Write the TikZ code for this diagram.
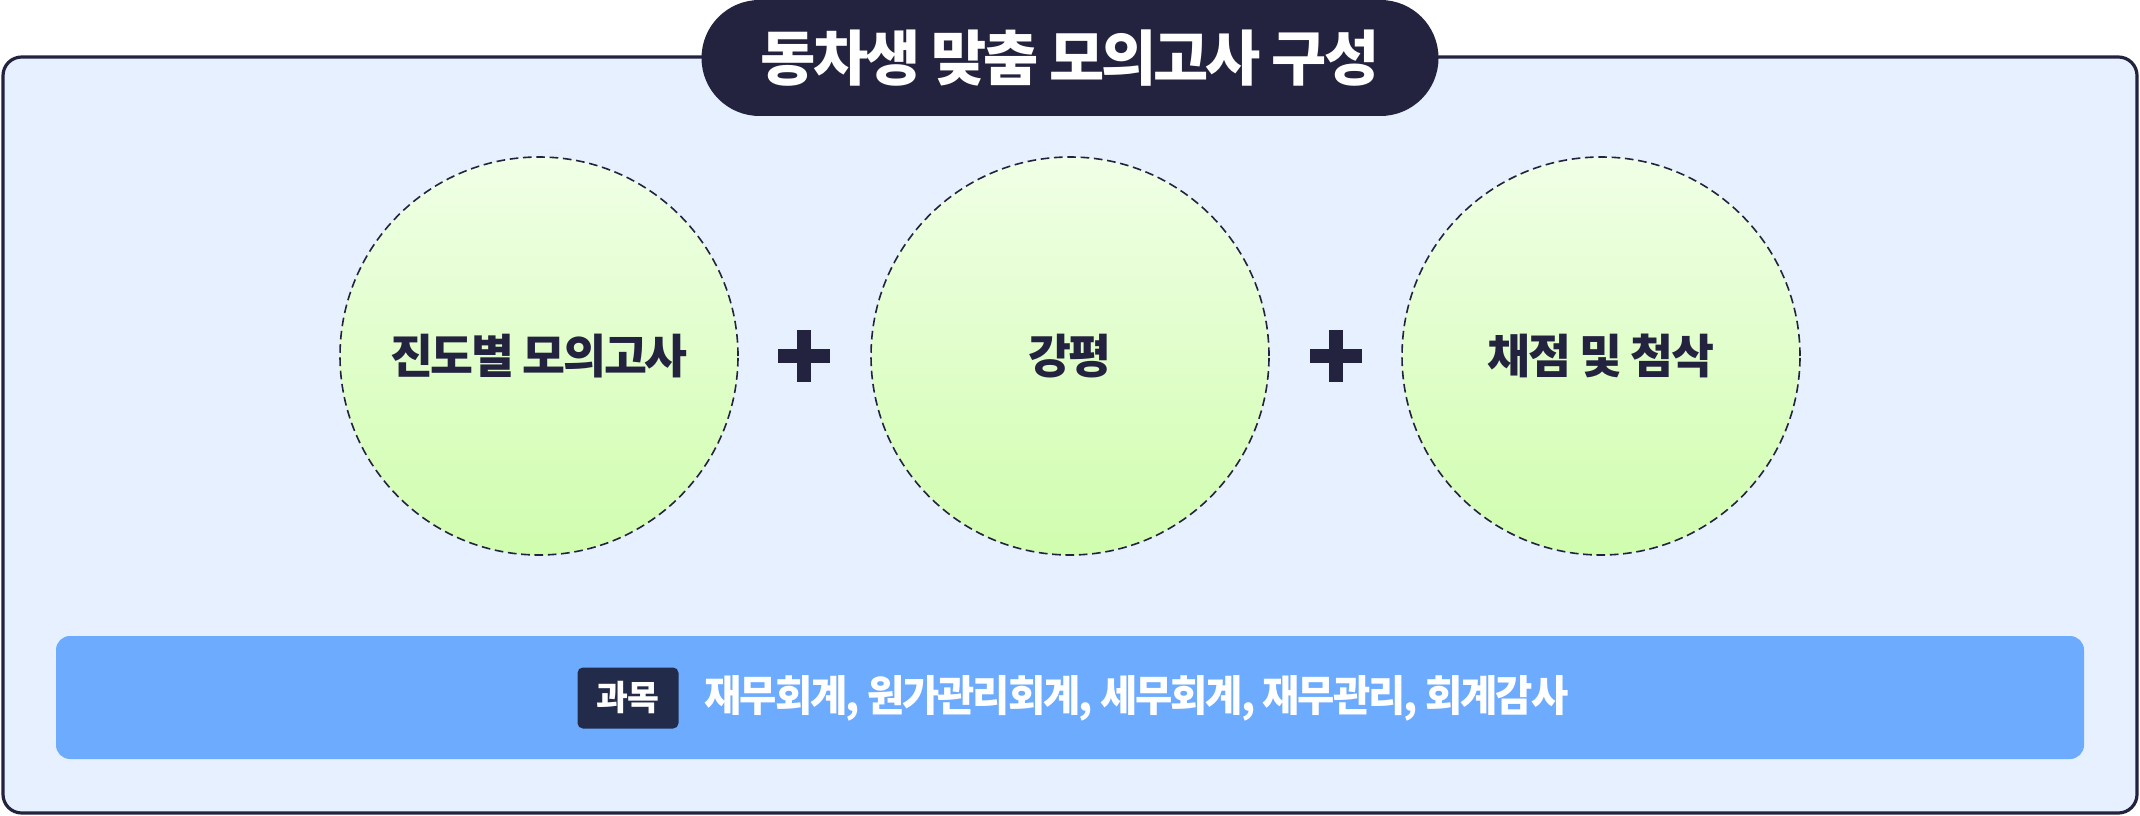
\documentclass[tikz,border=0pt]{standalone}
\usepackage{fontspec}
\setmainfont{Noto Sans CJK KR}
\usetikzlibrary{positioning}

\definecolor{navy}{HTML}{23233F}
\definecolor{tagnavy}{HTML}{222B4A}
\definecolor{panelblue}{HTML}{E6F0FF}
\definecolor{barblue}{HTML}{6DABFF}
\definecolor{greentop}{HTML}{F0FFE6}
\definecolor{greenbot}{HTML}{D0FDAE}

\tikzset{every picture/.style={line width=0.75pt}}
\tikzset{
  bubble/.style={circle, draw=navy, line width=1.2pt, dash pattern=on 6.5pt off 3.5pt,
    top color=greentop, bottom color=greenbot, minimum size=298.5pt, inner sep=0pt,
    text=navy, font=\fontsize{35}{40}\selectfont\bfseries\addfontfeatures{LetterSpace=-5}},
  pill/.style={fill=navy, rounded corners=43.5pt, minimum width=552.75pt, minimum height=87pt,
    text=white, font=\fontsize{45}{50}\selectfont\bfseries\addfontfeatures{LetterSpace=-5}},
  tagbox/.style={fill=tagnavy, rounded corners=4pt, minimum width=75.75pt, minimum height=45.75pt,
    text=white, inner sep=0pt, font=\fontsize{26}{30}\selectfont\bfseries\addfontfeatures{LetterSpace=-5}},
  subjects/.style={anchor=west, inner sep=0pt, text=white, xscale=0.95, yscale=-1, transform shape,
    font=\fontsize{32}{36}\selectfont\bfseries\addfontfeatures{LetterSpace=-5}}
}

\begin{document}
\begin{tikzpicture}[x=0.75pt,y=0.75pt,yscale=-1,xscale=1]
	\useasboundingbox (0,0) rectangle (2140,816);
	
	%Shape: Rectangle [panel]
	\draw [draw=navy, fill=panelblue, line width=2.4pt, rounded corners=14pt] (3,57) rectangle (2137,813) ;
	
	%Shape: Pill [title]
	\node [pill] (title) at (1070,58) {동차생 맞춤 모의고사 구성};
	
	%Shape: Circle [steps]
	\node [bubble] (mock) at (539,356) {진도별 모의고사};
	\node [bubble] (review) at (1070,356) {강평};
	\node [bubble] (grading) at (1601,356) {채점 및 첨삭};
	
	%Shape: Plus signs
	\foreach \px in {804,1336}{
		\fill [navy] (\px-26,349) rectangle (\px+26,363) ;
		\fill [navy] (\px-7,330) rectangle (\px+7,382) ;
	}
	
	%Shape: Rectangle [subject bar]
	\fill [barblue, rounded corners=10.5pt] (56,636) rectangle (2084,759) ;
	
	% Text Node
	\node [tagbox] (tag) at (628,698) {과목};
	% Text Node
	\node [subjects] (list) at (704,698) {재무회계, 원가관리회계, 세무회계, 재무관리, 회계감사};
	
\end{tikzpicture}
\end{document}
